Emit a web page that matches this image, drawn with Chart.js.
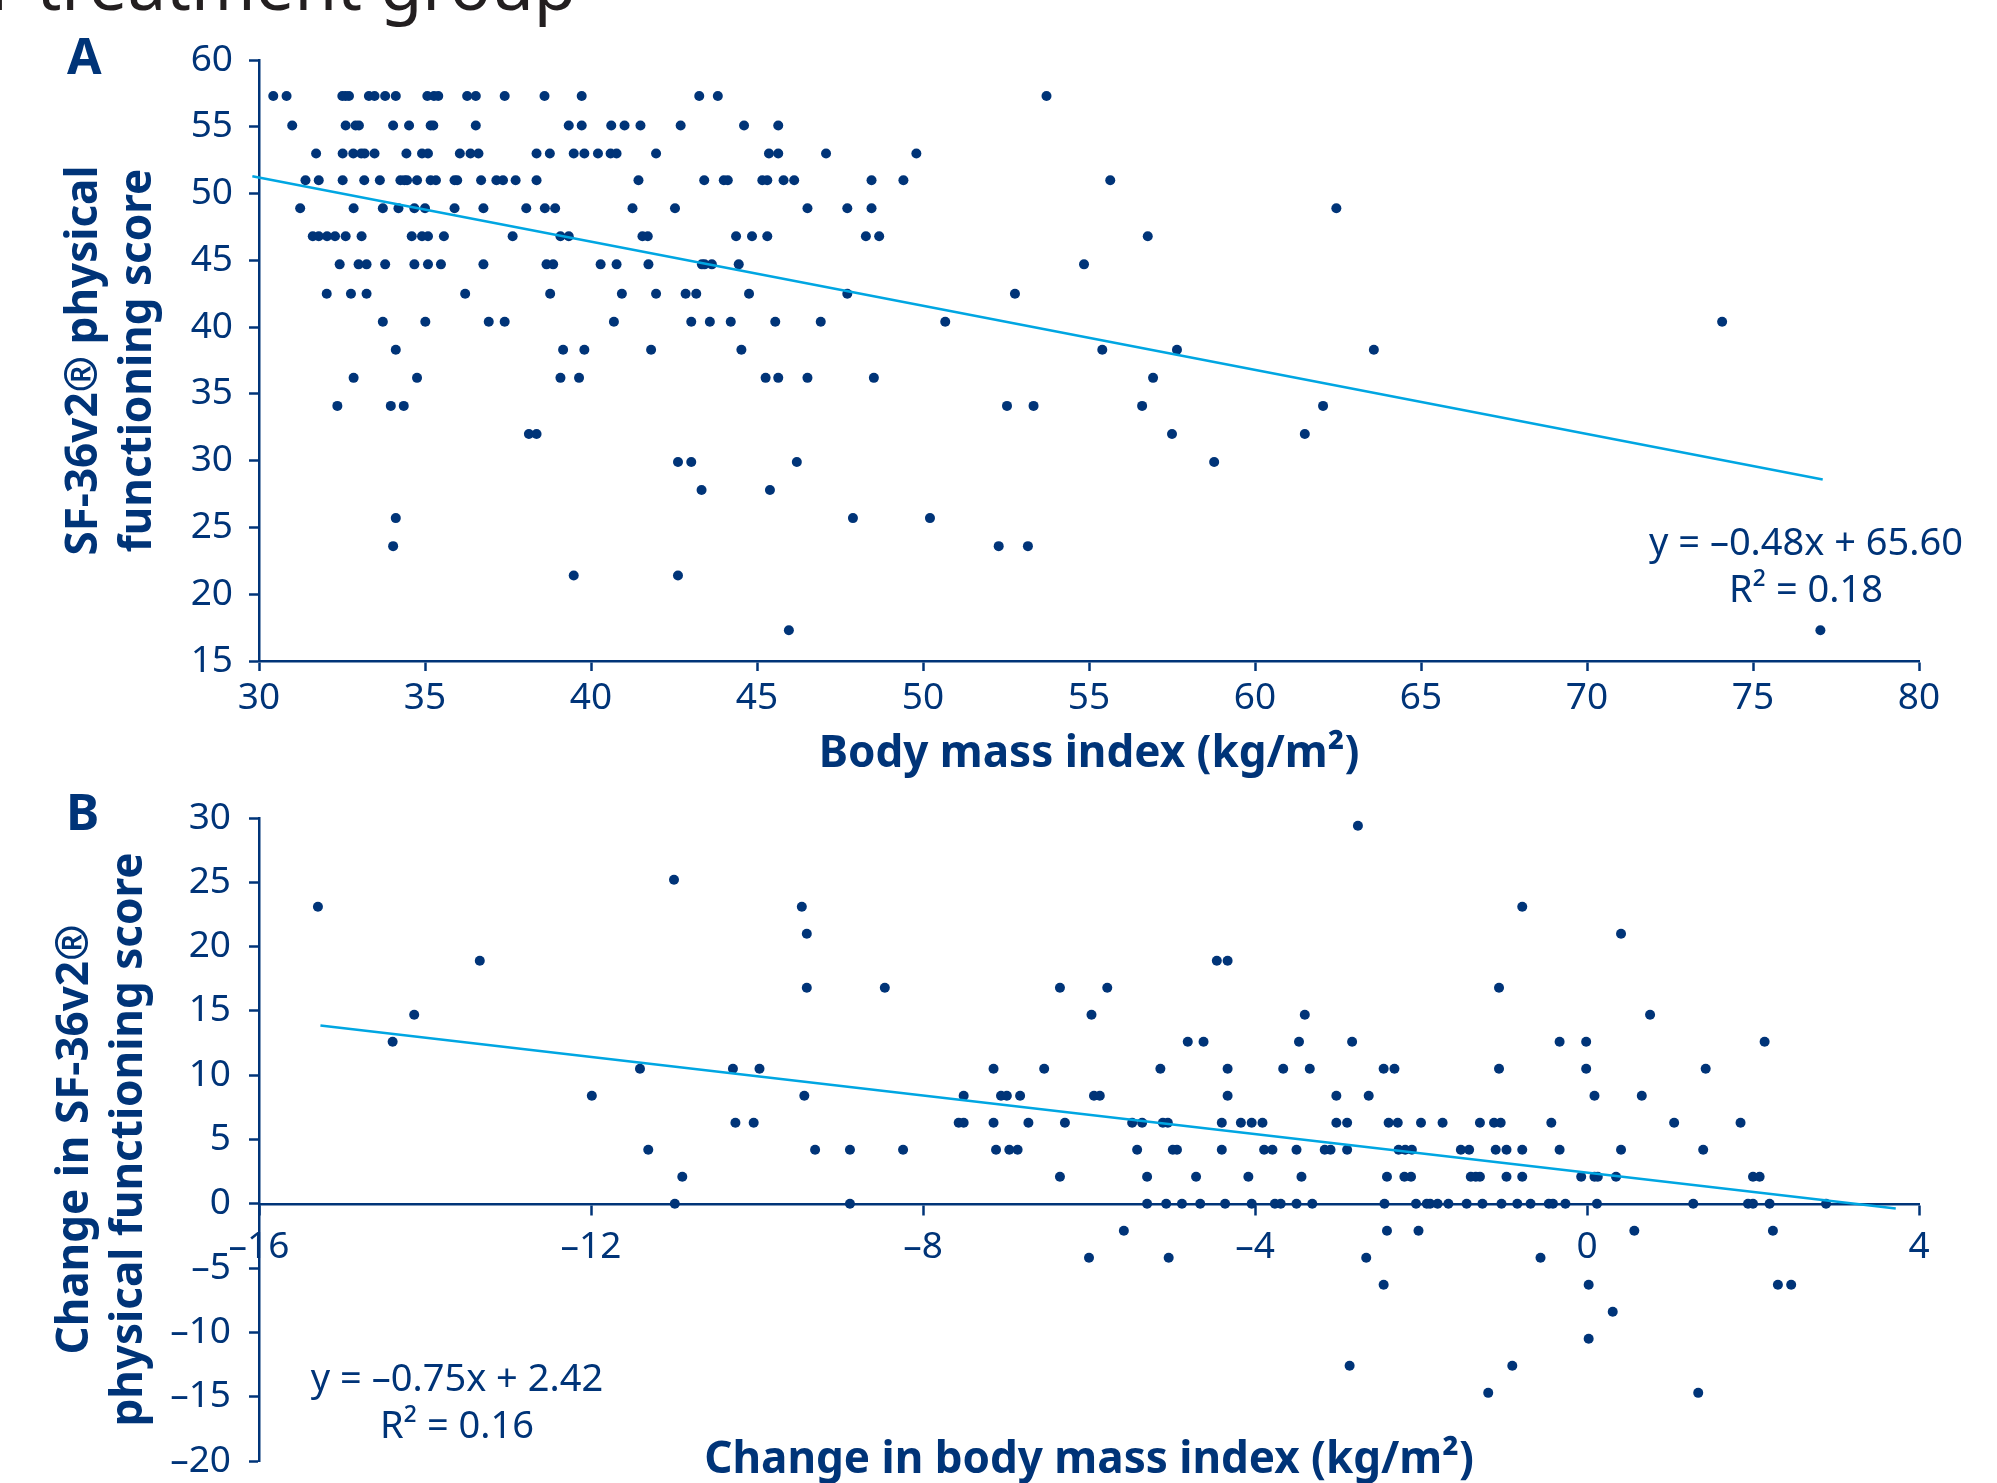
<!DOCTYPE html>
<html>
<head>
<meta charset="utf-8">
<script src="https://cdn.jsdelivr.net/npm/chart.js@4.4.1/dist/chart.umd.min.js"></script>
<style>
  body { margin: 0; width: 1997px; height: 1483px; overflow: hidden; background: #fff; font-family: "Noto Sans", sans-serif; position: relative; }
  canvas { position: absolute; left: 0; }
  #chartA { top: 0; }
  #chartB { top: 790px; }
  .lbl { position: absolute; color: #003478; white-space: nowrap; }
  #heading { left: -10px; top: -51px; font-size: 69px; line-height: 69px; color: #231f20; }
  .panel { font-weight: bold; font-size: 50px; line-height: 50px; }
  .eq { font-size: 38px; line-height: 47px; text-align: center; width: 500px; }
</style>
</head>
<body>
<div id="heading" class="lbl">r treatment group</div>
<canvas id="chartA" width="1997" height="790"></canvas>
<canvas id="chartB" width="1997" height="693"></canvas>
<div class="lbl panel" style="left:67px; top:30px;">A</div>
<div class="lbl panel" style="left:66px; top:786px;">B</div>
<div class="lbl eq" style="left:1556px; top:517px;">y = –0.48x + 65.60<br>R² = 0.18</div>
<div class="lbl eq" style="left:207px; top:1353px;">y = –0.75x + 2.42<br>R² = 0.16</div>
<script>
// Panel A: SF-36v2 physical functioning score (rows) vs body mass index
const scoreLevelsA = [57.3, 55.1, 53.0, 51.0, 48.9, 46.8, 44.7, 42.5, 40.4, 38.3, 36.2, 34.1, 32.0, 29.9, 27.8, 25.7, 23.6, 21.4, 17.3];
const bmiByLevelA = [
  [30.43, 30.83, 32.51, 32.61, 32.71, 33.31, 33.48, 33.80, 34.12, 35.07, 35.27, 35.40, 36.27, 36.53, 37.40, 38.60, 39.72, 43.26, 43.82, 53.72],
  [31.00, 32.61, 32.91, 33.01, 34.04, 34.52, 35.17, 35.25, 36.53, 39.33, 39.72, 40.61, 41.01, 41.49, 42.70, 44.61, 45.64],
  [31.72, 32.52, 32.84, 33.08, 33.18, 33.48, 34.44, 34.91, 35.09, 36.05, 36.37, 36.61, 38.36, 38.76, 39.48, 39.80, 40.21, 40.59, 40.77, 41.96, 45.36, 45.64, 47.08, 49.80],
  [31.40, 31.80, 32.52, 33.17, 33.64, 34.26, 34.38, 34.46, 34.76, 35.17, 35.33, 35.89, 35.97, 36.69, 37.15, 37.35, 37.73, 38.36, 41.43, 43.41, 44.00, 44.12, 45.16, 45.31, 45.80, 46.12, 48.45, 49.41, 55.64],
  [31.24, 32.85, 33.73, 34.20, 34.68, 35.00, 35.89, 36.76, 38.05, 38.61, 38.92, 41.25, 42.53, 46.52, 47.72, 48.45, 62.45],
  [31.62, 31.80, 32.05, 32.29, 32.61, 33.09, 34.60, 34.91, 35.09, 35.57, 37.64, 39.08, 39.33, 41.55, 41.71, 44.37, 44.85, 45.31, 48.28, 48.68, 56.77],
  [32.43, 33.00, 33.24, 33.80, 34.68, 35.09, 35.48, 36.76, 38.66, 38.86, 40.29, 40.77, 41.73, 43.34, 43.42, 43.64, 44.45, 54.85],
  [32.04, 32.77, 33.24, 36.21, 38.77, 40.93, 41.96, 42.85, 43.17, 44.76, 47.72, 52.77],
  [33.73, 35.01, 36.92, 37.40, 40.69, 43.02, 43.58, 44.21, 45.55, 46.92, 50.67, 74.07],
  [34.12, 39.16, 39.80, 41.81, 44.53, 55.40, 57.65, 63.58],
  [32.85, 34.76, 39.08, 39.64, 45.26, 45.64, 46.52, 48.52, 56.93],
  [32.36, 33.97, 34.36, 52.53, 53.33, 56.60, 62.05],
  [38.13, 38.36, 57.50, 61.50],
  [42.62, 43.02, 46.20, 58.77],
  [43.33, 45.39],
  [34.12, 47.89, 50.21],
  [34.04, 52.28, 53.16],
  [39.48, 42.62],
  [45.96, 77.03]
];
const fitA = { slope: -0.48, intercept: 65.60 };
const fitRangeA = [29.8, 77.1];

// Panel B: change in SF-36v2 score (rows) vs change in body mass index
const scoreLevelsB = [29.4, 25.2, 23.1, 21.0, 18.9, 16.8, 14.7, 12.6, 10.5, 8.4, 6.3, 4.2, 2.1, 0, -2.1, -4.2, -6.3, -8.4, -10.5, -12.6, -14.7];
const bmiChangeByLevelB = [
  [-2.76],
  [-11.00],
  [-15.29, -9.46, -0.78],
  [-9.40, 0.41],
  [-13.34, -4.46, -4.33],
  [-9.40, -8.46, -6.35, -5.78, -1.06],
  [-14.13, -5.97, -3.40, 0.76],
  [-14.39, -4.81, -4.62, -3.47, -2.83, -0.33, -0.01, 2.14],
  [-11.41, -10.29, -9.97, -7.15, -6.54, -5.14, -4.33, -3.66, -3.34, -2.45, -2.32, -1.06, -0.01, 1.43],
  [-11.99, -9.43, -7.51, -7.06, -6.99, -6.83, -5.94, -5.87, -4.33, -3.02, -2.63, 0.09, 0.66],
  [-10.26, -10.04, -7.57, -7.51, -7.15, -6.73, -6.29, -5.48, -5.36, -5.11, -5.05, -4.40, -4.17, -4.04, -3.91, -3.02, -2.89, -2.39, -2.28, -2.00, -1.74, -1.29, -1.12, -1.04, -0.43, 1.05, 1.85],
  [-11.31, -9.30, -8.88, -8.24, -7.12, -6.96, -6.86, -5.42, -4.99, -4.94, -4.40, -3.89, -3.79, -3.50, -3.16, -3.09, -2.89, -2.27, -2.19, -2.11, -1.52, -1.42, -1.10, -0.97, -0.78, -0.33, 0.41, 1.40],
  [-10.90, -6.35, -5.30, -4.71, -4.08, -3.44, -2.41, -2.20, -2.12, -1.40, -1.34, -1.29, -0.97, -0.78, -0.07, 0.09, 0.13, 0.35, 2.00, 2.08],
  [-10.99, -8.88, -5.30, -5.07, -4.88, -4.66, -4.36, -4.04, -3.76, -3.69, -3.50, -3.31, -2.44, -2.06, -1.93, -1.89, -1.80, -1.67, -1.45, -1.26, -1.03, -0.84, -0.68, -0.46, -0.41, -0.26, 0.12, 1.28, 1.94, 2.00, 2.20, 2.88],
  [-5.58, -2.41, -2.03, 0.57, 2.24],
  [-6.00, -5.04, -2.66, -0.56],
  [-2.45, 0.02, 2.30, 2.46],
  [0.31],
  [0.02],
  [-2.86, -0.90],
  [-1.19, 1.34]
];
const fitB = { slope: -0.75, intercept: 2.42 };
const fitRangeB = [-15.26, 3.72];

const navy = '#003478';
const lineBlue = '#00a6e2';
const fontFamily = '"Noto Sans", sans-serif';

function toPoints(levels, rows) {
  const pts = [];
  levels.forEach((y, i) => rows[i].forEach(x => pts.push({ x: x, y: y })));
  return pts;
}

function fitLine(fit, range) {
  return range.map(x => ({ x: x, y: fit.slope * x + fit.intercept }));
}

const dash = v => String(v).replace('-', '–');
const titleFont = { size: 44, weight: 'bold', lineHeight: 1.214 };

function yAxis(min, max, titleLines, titlePad, labelPad) {
  return {
    type: 'linear', min: min, max: max,
    // fixed axis width, and no extra room reserved for the end labels
    afterFit: s => { s.width = 259; s.paddingTop = 0; s.paddingBottom = 0; },
    ticks: { stepSize: 5, color: navy, font: { size: 37 }, padding: labelPad, callback: dash },
    grid: { display: true, drawOnChartArea: false, tickLength: 10, tickColor: navy, tickWidth: 2.5 },
    border: { display: true, color: navy, width: 2.5 },
    title: { display: true, text: titleLines, color: navy, padding: { top: titlePad, bottom: 0 }, font: titleFont }
  };
}

function scatterDatasets(points, line) {
  return [
    { type: 'line', data: line, borderColor: lineBlue, borderWidth: 2.5, pointRadius: 0, fill: false, clip: false },
    { data: points, backgroundColor: navy, borderWidth: 0, pointRadius: 5 }
  ];
}

Chart.defaults.font.family = fontFamily;

new Chart(document.getElementById('chartA'), {
  type: 'scatter',
  data: { datasets: scatterDatasets(toPoints(scoreLevelsA, bmiByLevelA), fitLine(fitA, fitRangeA)) },
  options: {
    responsive: false, animation: false,
    layout: { padding: { top: 60, right: 78, bottom: 0, left: 0 } },
    plugins: { legend: { display: false }, tooltip: { enabled: false } },
    scales: {
      x: {
        type: 'linear', min: 30, max: 80,
        afterFit: s => { s.height = 129; },
        ticks: { stepSize: 5, color: navy, font: { size: 37 }, padding: 5 },
        grid: { display: true, drawOnChartArea: false, tickLength: 10, tickColor: navy, tickWidth: 2.5 },
        border: { display: true, color: navy, width: 2.5 },
        title: { display: true, text: 'Body mass index (kg/m²)', color: navy, padding: { top: 0, bottom: 9 }, font: titleFont }
      },
      y: yAxis(15, 60, ['SF-36v2® physical', 'functioning score'], 58, 16)
    }
  }
});

new Chart(document.getElementById('chartB'), {
  type: 'scatter',
  data: { datasets: scatterDatasets(toPoints(scoreLevelsB, bmiChangeByLevelB), fitLine(fitB, fitRangeB)) },
  options: {
    responsive: false, animation: false,
    layout: { padding: { top: 28, right: 78, bottom: 0, left: 0 } },
    plugins: { legend: { display: false }, tooltip: { enabled: false } },
    scales: {
      x: {
        type: 'linear', min: -16, max: 4, position: { y: 0 },
        ticks: { stepSize: 4, color: navy, font: { size: 37 }, padding: 11, callback: dash },
        grid: { display: true, drawOnChartArea: false, tickLength: 10, tickColor: navy, tickWidth: 2.5 },
        border: { display: true, color: navy, width: 2.5 }
      },
      x2: {
        type: 'linear', min: -16, max: 4, position: 'bottom',
        afterFit: s => { s.height = 22; },
        ticks: { display: false },
        grid: { display: false },
        border: { display: false },
        title: { display: true, text: 'Change in body mass index (kg/m²)', color: navy, padding: { top: 0, bottom: -4 }, font: titleFont }
      },
      y: yAxis(-20, 30, ['Change in SF-36v2®', 'physical functioning score'], 49, 18)
    }
  }
});
</script>
</body>
</html>
